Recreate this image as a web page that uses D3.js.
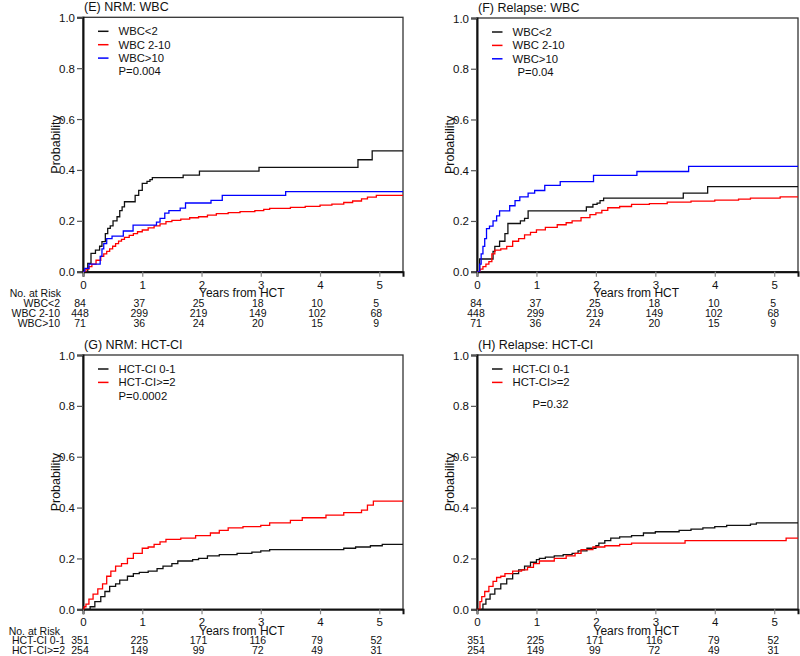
<!DOCTYPE html>
<html><head><meta charset="utf-8">
<script src="https://cdn.jsdelivr.net/npm/d3@7"></script>
<style>
body{margin:0;background:#fff;}
text{font-family:"Liberation Sans",Arial,sans-serif;fill:#111;}
</style></head>
<body><svg id="c" width="800" height="656"></svg>
<script>
// ---------- data ----------
const xTicks = [0,1,2,3,4,5];
const yTicks = [0,0.2,0.4,0.6,0.8,1.0];
const wbcGroups = ["WBC<2","WBC 2-10","WBC>10"];
const hctGroups = ["HCT-CI 0-1","HCT-CI>=2"];
const wbcRisk = [[84,37,25,18,10,5],[448,299,219,149,102,68],[71,36,24,20,15,9]];
const hctRisk = [[351,225,171,116,79,52],[254,149,99,72,49,31]];

const nrmWbcLow = [[0,0],[0.08,0.033],[0.135,0.072],[0.21,0.085],[0.28,0.10],[0.32,0.118],[0.377,0.15],[0.417,0.17],[0.46,0.18],[0.507,0.20],[0.574,0.216],[0.62,0.24],[0.66,0.255],[0.70,0.275],[0.88,0.30],[0.94,0.32],[1.0,0.347],[1.08,0.355],[1.13,0.362],[1.17,0.37],[1.69,0.38],[1.965,0.395],[2.97,0.41],[4.64,0.44],[4.88,0.475],[5.4,0.475]];
const nrmWbcMid = [[0,0],[0.05,0.01],[0.1,0.02],[0.15,0.03],[0.22,0.045],[0.3,0.06],[0.35,0.07],[0.4,0.08],[0.45,0.09],[0.5,0.1],[0.55,0.11],[0.6,0.12],[0.65,0.127],[0.7,0.135],[0.78,0.143],[0.85,0.15],[0.92,0.157],[1.0,0.164],[1.1,0.172],[1.2,0.18],[1.3,0.188],[1.4,0.197],[1.5,0.202],[1.65,0.207],[1.8,0.212],[1.95,0.216],[2.1,0.222],[2.25,0.228],[2.45,0.232],[2.65,0.236],[2.9,0.24],[3.05,0.245],[3.15,0.249],[3.5,0.253],[3.75,0.257],[4.0,0.262],[4.2,0.266],[4.4,0.272],[4.55,0.278],[4.7,0.286],[4.8,0.293],[4.95,0.30],[5.4,0.302]];
const nrmWbcHigh = [[0,0],[0.03,0.013],[0.1,0.03],[0.29,0.06],[0.32,0.09],[0.35,0.11],[0.40,0.13],[0.49,0.14],[0.68,0.16],[0.845,0.183],[1.24,0.195],[1.3,0.21],[1.38,0.23],[1.45,0.24],[1.64,0.25],[1.73,0.27],[2.16,0.28],[2.35,0.30],[3.42,0.315],[5.4,0.315]];

const relWbcLow = [[0,0],[0.045,0.05],[0.27,0.08],[0.3,0.1],[0.38,0.12],[0.47,0.15],[0.52,0.19],[0.73,0.2],[0.8,0.21],[0.86,0.24],[1.84,0.255],[1.95,0.265],[2.02,0.27],[2.07,0.28],[2.13,0.29],[3.47,0.31],[3.88,0.335],[5.4,0.335]];
const relWbcMid = [[0,0],[0.05,0.01],[0.1,0.02],[0.15,0.03],[0.2,0.04],[0.25,0.07],[0.3,0.085],[0.4,0.09],[0.5,0.1],[0.6,0.12],[0.7,0.13],[0.8,0.145],[0.9,0.155],[1.0,0.165],[1.15,0.175],[1.35,0.185],[1.5,0.193],[1.6,0.2],[1.75,0.213],[1.9,0.225],[2.0,0.232],[2.1,0.242],[2.2,0.252],[2.4,0.257],[2.6,0.265],[2.9,0.268],[3.2,0.274],[3.6,0.278],[4.0,0.282],[4.4,0.286],[4.6,0.29],[5.1,0.295],[5.4,0.296]];
const relWbcHigh = [[0,0],[0.045,0.03],[0.07,0.07],[0.1,0.1],[0.13,0.13],[0.16,0.17],[0.21,0.18],[0.27,0.2],[0.33,0.22],[0.38,0.24],[0.55,0.26],[0.64,0.28],[0.72,0.295],[0.86,0.31],[0.97,0.32],[1.14,0.34],[1.4,0.355],[1.96,0.38],[2.69,0.395],[3.56,0.415],[5.4,0.415]];

const nrmHctLow = [[0,0],[0.1,0.0],[0.12,0.01],[0.2,0.03],[0.3,0.05],[0.37,0.07],[0.45,0.09],[0.55,0.1],[0.62,0.115],[0.75,0.13],[0.85,0.14],[0.95,0.145],[1.1,0.15],[1.25,0.16],[1.35,0.17],[1.5,0.18],[1.6,0.19],[1.85,0.195],[1.95,0.2],[2.1,0.21],[2.3,0.215],[2.6,0.22],[2.85,0.225],[3.0,0.23],[3.15,0.235],[4.4,0.24],[4.6,0.245],[4.85,0.25],[5.05,0.255],[5.4,0.255]];
const nrmHctHigh = [[0,0],[0.02,0.01],[0.05,0.02],[0.1,0.04],[0.17,0.06],[0.25,0.08],[0.33,0.1],[0.4,0.13],[0.47,0.15],[0.55,0.17],[0.65,0.18],[0.75,0.2],[0.85,0.22],[1.0,0.24],[1.1,0.245],[1.2,0.255],[1.3,0.265],[1.4,0.275],[1.65,0.28],[1.9,0.29],[2.15,0.3],[2.3,0.31],[2.45,0.32],[2.7,0.325],[3.0,0.33],[3.15,0.34],[3.5,0.35],[3.7,0.36],[4.1,0.37],[4.4,0.38],[4.7,0.39],[4.8,0.41],[4.9,0.425],[5.4,0.425]];

const relHctLow = [[0,0],[0.05,0],[0.1,0.02],[0.15,0.04],[0.22,0.06],[0.3,0.08],[0.4,0.1],[0.5,0.12],[0.6,0.14],[0.7,0.155],[0.8,0.17],[0.9,0.185],[1.0,0.195],[1.05,0.2],[1.15,0.205],[1.3,0.21],[1.45,0.215],[1.6,0.22],[1.7,0.23],[1.85,0.24],[2.0,0.25],[2.05,0.26],[2.15,0.27],[2.25,0.28],[2.4,0.285],[2.6,0.29],[2.8,0.3],[3.0,0.305],[3.4,0.31],[3.6,0.315],[3.8,0.32],[4.0,0.325],[4.2,0.33],[4.6,0.335],[4.7,0.34],[5.4,0.34]];
const relHctHigh = [[0,0],[0.05,0.03],[0.08,0.05],[0.13,0.07],[0.2,0.09],[0.27,0.11],[0.33,0.125],[0.4,0.13],[0.47,0.14],[0.6,0.15],[0.75,0.155],[0.85,0.165],[0.95,0.18],[1.05,0.19],[1.3,0.2],[1.5,0.21],[1.65,0.22],[1.75,0.235],[1.95,0.245],[2.15,0.25],[2.4,0.255],[2.6,0.26],[3.5,0.27],[5.2,0.28],[5.4,0.28]];

const colors3 = ["#111","#ff0000","#0000ff"];
const colors2 = ["#111","#ff0000"];

// ---------- layout ----------
const panels = [
  {title:"(E) NRM: WBC", L:83, R:403, T:17.3, B:271.7, series:[nrmWbcLow,nrmWbcMid,nrmWbcHigh], groups:wbcGroups, colors:colors3, pval:"P=0.004", pdx:0, pRow:3, risk:wbcRisk, showLabels:true, numOff:-3, lab:{noAt:61, rows:60}},
  {title:"(F) Relapse: WBC", L:477, R:798, T:18, B:271.7, series:[relWbcLow,relWbcMid,relWbcHigh], groups:wbcGroups, colors:colors3, pval:"P=0.04", pdx:5, pRow:3, risk:wbcRisk, showLabels:false, numOff:-1},
  {title:"(G) NRM: HCT-CI", L:83, R:403, T:355, B:609.3, series:[nrmHctLow,nrmHctHigh], groups:hctGroups, colors:colors2, pval:"P=0.0002", pdx:0, pRow:2, risk:hctRisk, showLabels:true, numOff:-3, lab:{noAt:60, rows:65}},
  {title:"(H) Relapse: HCT-CI", L:477, R:798, T:355, B:609.3, series:[relHctLow,relHctHigh], groups:hctGroups, colors:colors2, pval:"P=0.32", pdx:20, pRow:2.6, risk:hctRisk, showLabels:false, numOff:-1}
];

const svg = d3.select("#c");
panels.forEach((p,pi)=>{
  const x = d3.scaleLinear().domain([0,5.4]).range([p.L,p.R]);
  const y = d3.scaleLinear().domain([0,1]).range([p.B,p.T]);
  const g = svg.append("g");
  const cid = "clip"+pi;
  svg.append("clipPath").attr("id",cid).append("rect")
    .attr("x",p.L).attr("y",p.T).attr("width",p.R-p.L).attr("height",p.B-p.T);

  // frame
  g.append("rect").attr("x",p.L).attr("y",p.T).attr("width",p.R-p.L).attr("height",p.B-p.T)
    .attr("fill","none").attr("stroke","#333").attr("stroke-width",1.3);

  // y axis
  const ya = g.append("g").attr("transform",`translate(${p.L},0)`)
    .call(d3.axisLeft(y).tickValues(yTicks).tickFormat(d3.format(".1f")).tickSize(6).tickPadding(2));
  ya.select(".domain").attr("stroke","#111").attr("stroke-width",2);
  ya.selectAll(".tick line").attr("stroke","#555").attr("stroke-width",1.2);
  ya.selectAll(".tick text").style("font-size","11.5px").attr("fill","#222").attr("dy","0.35em");

  // x axis
  const xa = g.append("g").attr("transform",`translate(0,${p.B})`)
    .call(d3.axisBottom(x).tickValues(xTicks).tickFormat(d3.format("d")).tickSize(5).tickPadding(4));
  xa.select(".domain").attr("stroke","#111").attr("stroke-width",2);
  xa.selectAll(".tick line").attr("stroke","#888").attr("stroke-width",1.2);
  xa.selectAll(".tick text").style("font-size","11.5px").attr("fill","#222");

  // axis titles
  g.append("text").attr("transform",`translate(${p.L-27},${(p.T+p.B)/2}) rotate(-90)`)
    .attr("text-anchor","middle").attr("dy","0.35em").style("font-size","12.5px").text("Probability");
  g.append("text").attr("x",x(2.68)).attr("y",p.B+25.5).attr("text-anchor","middle")
    .style("font-size","12px").text("Years from HCT");

  // title
  g.append("text").attr("x",p.L+1).attr("y",p.T-6.3).style("font-size","12.5px").text(p.title);

  // curves
  const line = d3.line().x(d=>x(d[0])).y(d=>y(d[1])).curve(d3.curveStepAfter);
  p.series.forEach((s,i)=>{
    g.append("path").datum(s).attr("d",line).attr("fill","none")
      .attr("stroke",p.colors[i]).attr("stroke-width",1.3).attr("clip-path",`url(#${cid})`);
  });

  // legend
  const lx0 = p.L+15, lx1 = p.L+25.5, tx = p.L+35.5, ly0 = p.T+14, dy = 13.4;
  p.groups.forEach((gname,i)=>{
    g.append("line").attr("x1",lx0).attr("x2",lx1).attr("y1",ly0+i*dy).attr("y2",ly0+i*dy)
      .attr("stroke",p.colors[i]).attr("stroke-width",1.5);
    g.append("text").attr("x",tx).attr("y",ly0+i*dy).attr("dy","0.35em").style("font-size","11.3px").text(gname);
  });
  g.append("text").attr("x",tx+p.pdx).attr("y",ly0+p.pRow*dy).attr("dy","0.35em").style("font-size","11.3px").text(p.pval);

  // risk table
  const rowY0 = p.B+35, rowDy = 10;
  if(p.showLabels){
    g.append("text").attr("x",p.lab.noAt).attr("y",p.B+25.5).attr("text-anchor","end")
      .style("font-size","10.5px").text("No. at Risk");
    p.groups.forEach((gname,i)=>{
      g.append("text").attr("x",p.lab.rows).attr("y",rowY0+i*rowDy).attr("text-anchor","end")
        .style("font-size","10.5px").text(gname);
    });
  }
  p.risk.forEach((row,i)=>{
    row.forEach((v,j)=>{
      g.append("text").attr("x",x(xTicks[j])+p.numOff).attr("y",rowY0+i*rowDy)
        .attr("text-anchor","middle").style("font-size","10.5px").text(v);
    });
  });
});
</script></body></html>
